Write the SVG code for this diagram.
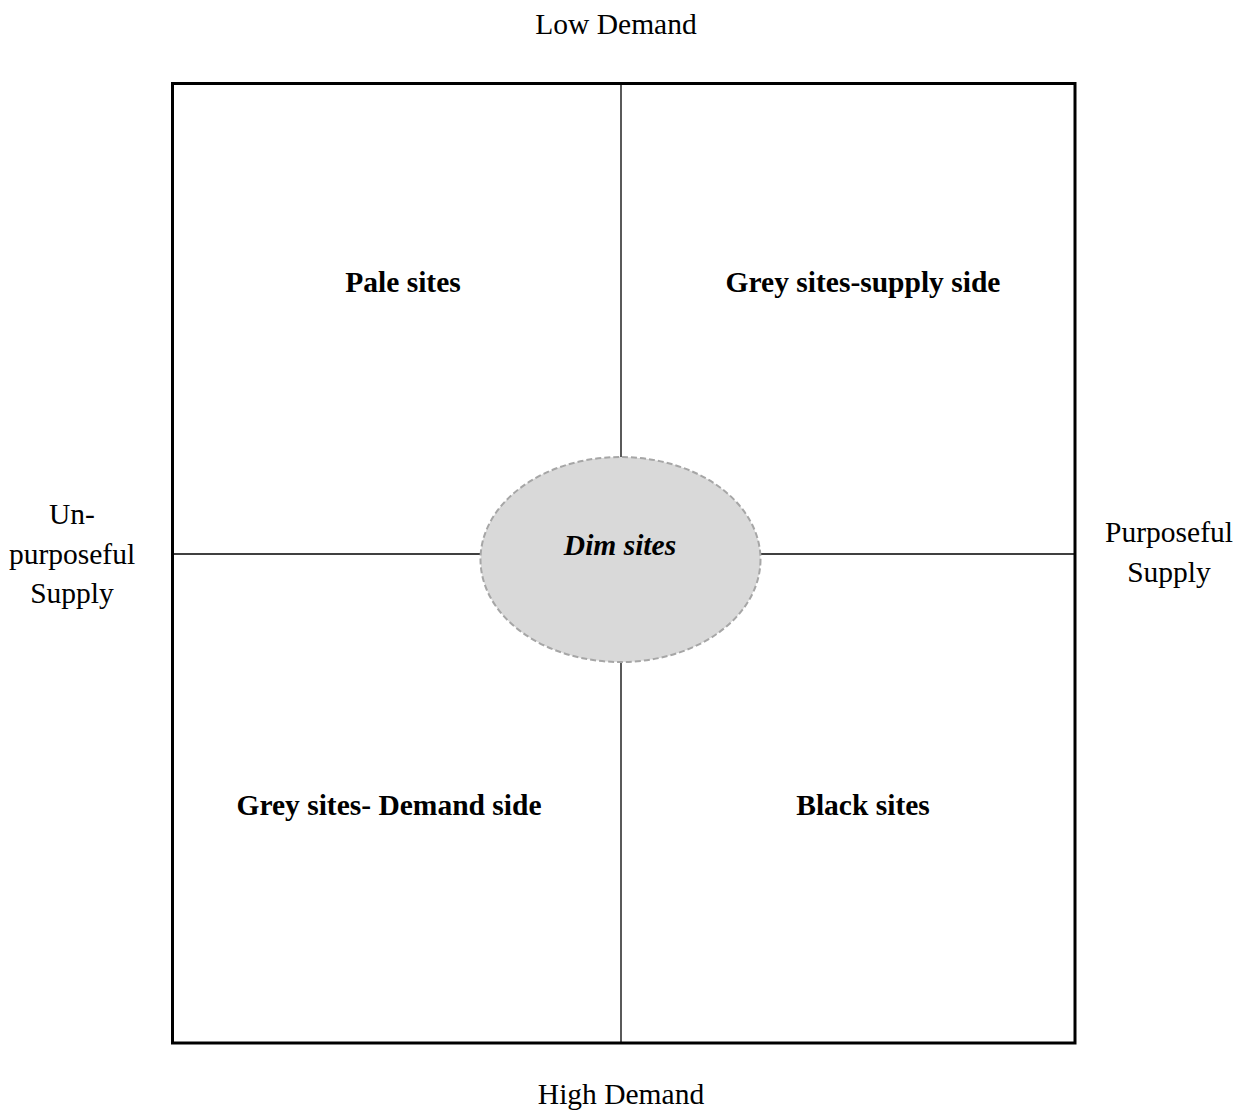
<svg xmlns="http://www.w3.org/2000/svg" width="1242" height="1111" viewBox="0 0 1242 1111">
<style>
.lbl{font-family:"Liberation Serif","Times New Roman",serif;font-size:29.5px;fill:#000;text-anchor:middle}
.q{font-family:"Liberation Serif","Times New Roman",serif;font-size:29.5px;font-weight:bold;fill:#000;text-anchor:middle}
.ln{stroke:#000;stroke-width:1.3;fill:none}
</style>
<rect width="1242" height="1111" fill="#fff"/>
<g id="connectors">
<line class="ln" x1="621" y1="84" x2="621" y2="457"/>
<line class="ln" x1="621" y1="662" x2="621" y2="1043"/>
<line class="ln" x1="173" y1="554" x2="481" y2="554"/>
<line class="ln" x1="760" y1="554" x2="1075" y2="554"/>
</g>
<g id="frame"><rect x="172.5" y="83.5" width="902.5" height="959.5" fill="none" stroke="#000" stroke-width="3"/></g>
<g id="dim"><ellipse cx="620.5" cy="559.5" rx="140" ry="102.5" fill="#d9d9d9" stroke="#a6a6a6" stroke-width="2" stroke-dasharray="6,3"/>
<text x="620" y="555" class="q" font-style="italic">Dim sites</text></g>
<g id="pale"><text x="403" y="292" class="q">Pale sites</text></g>
<g id="greysupply"><text x="863" y="292" class="q">Grey sites-supply side</text></g>
<g id="greydemand"><text x="389" y="815" class="q">Grey sites- Demand side</text></g>
<g id="black"><text x="863" y="815" class="q">Black sites</text></g>
<g id="low"><text x="616" y="34" class="lbl">Low Demand</text></g>
<g id="high"><text x="621" y="1104" class="lbl">High Demand</text></g>
<g id="unp"><text x="72" y="524" class="lbl">Un-</text><text x="72" y="564" class="lbl">purposeful</text><text x="72" y="603" class="lbl">Supply</text></g>
<g id="purp"><text x="1169" y="542" class="lbl">Purposeful</text><text x="1169" y="582" class="lbl">Supply</text></g>
</svg>
